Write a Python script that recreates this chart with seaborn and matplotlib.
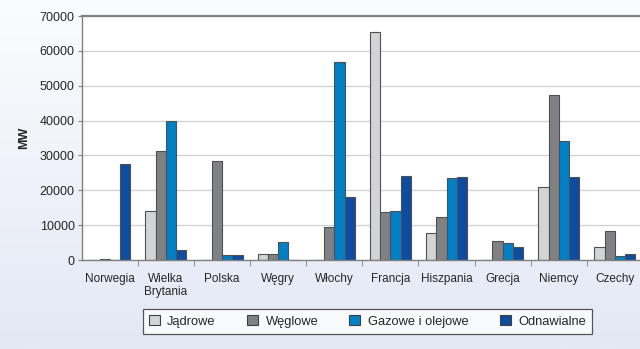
import matplotlib
matplotlib.use("Agg")
import matplotlib.pyplot as plt
import seaborn as sns
import numpy as np
import pandas as pd

# Installed capacity by source (MW)
countries = ["Norwegia", "Wielka\nBrytania", "Polska", "Węgry", "Włochy",
             "Francja", "Hiszpania", "Grecja", "Niemcy", "Czechy"]
series = ["Jądrowe", "Węglowe", "Gazowe i olejowe", "Odnawialne"]
jadrowe = [0, 14200, 0, 1700, 0, 65400, 7800, 0, 20900, 3700]
weglowe = [400, 31400, 28500, 1700, 9600, 13900, 12200, 5400, 47300, 8200]
gazowe = [0, 40000, 1300, 5100, 56700, 14200, 23400, 4800, 34200, 1100]
odnawialne = [27500, 2800, 1300, 0, 18000, 24100, 23700, 3700, 23700, 1700]
colors = ["#d3d4d6", "#808184", "#0080c6", "#0d4c9f"]

rows = []
for name, vals in zip(series, [jadrowe, weglowe, gazowe, odnawialne]):
    for c, v in zip(countries, vals):
        rows.append({"kraj": c, "MW": v, "typ": name})
df = pd.DataFrame(rows)

sns.set_style("white")
plt.rcParams["font.family"] = ["Liberation Sans", "DejaVu Sans"]

fig = plt.figure(figsize=(6.4, 3.49), dpi=100)

# light gradient background
bg = fig.add_axes([0, 0, 1, 1], zorder=-10)
grad = np.linspace(0, 1, 256).reshape(-1, 1)
cmap = matplotlib.colors.LinearSegmentedColormap.from_list("bg", ["#fbfcfe", "#e3e8f4"])
bg.imshow(grad, aspect="auto", cmap=cmap, extent=[0, 1, 0, 1], origin="upper")
bg.axis("off")

ax = fig.add_axes([0.1277, 0.255, 0.877, 0.699])
ax.set_facecolor("white")
sns.barplot(data=df, x="kraj", y="MW", hue="typ", palette=colors, ax=ax,
            width=0.73, gap=0, edgecolor="#505050", linewidth=0.8,
            errorbar=None, saturation=1)

ax.set_ylim(0, 70000)
ax.set_xlim(-0.5, 9.5)
ax.set_yticks(range(0, 70001, 10000))
ax.yaxis.grid(True, color="#d0d0d0", linewidth=0.9)
ax.set_axisbelow(True)
ax.set_xlabel("")
ax.set_ylabel("MW", fontsize=9, fontweight="bold", labelpad=7)
ax.tick_params(axis="y", labelsize=9, length=3, color="#808080", pad=2, left=True)
ax.tick_params(axis="x", which="major", labelsize=8.5, length=0, pad=9)
ax.set_xticks(np.arange(0.5, 9.5, 1), minor=True)
ax.tick_params(axis="x", which="minor", length=4, color="#808080", bottom=True)

for side in ["top", "left", "bottom"]:
    ax.spines[side].set_color("#808080")
ax.spines["top"].set_linewidth(1.6)
ax.spines["left"].set_linewidth(1.0)
ax.spines["bottom"].set_linewidth(1.0)
ax.spines["right"].set_visible(False)

ax.get_legend().remove()
handles = [matplotlib.patches.Patch(facecolor=c, edgecolor="#404040", linewidth=0.8)
           for c in colors]
leg = fig.legend(handles, series, loc="center", bbox_to_anchor=(0.574, 0.079),
                 ncol=4, fontsize=9.3, frameon=True, fancybox=False,
                 handlelength=0.85, handleheight=0.85, handletextpad=0.6,
                 columnspacing=2.4, borderpad=0.45)
leg.get_frame().set_edgecolor("#303030")
leg.get_frame().set_linewidth(0.9)

fig.savefig("out.png", dpi=100)
